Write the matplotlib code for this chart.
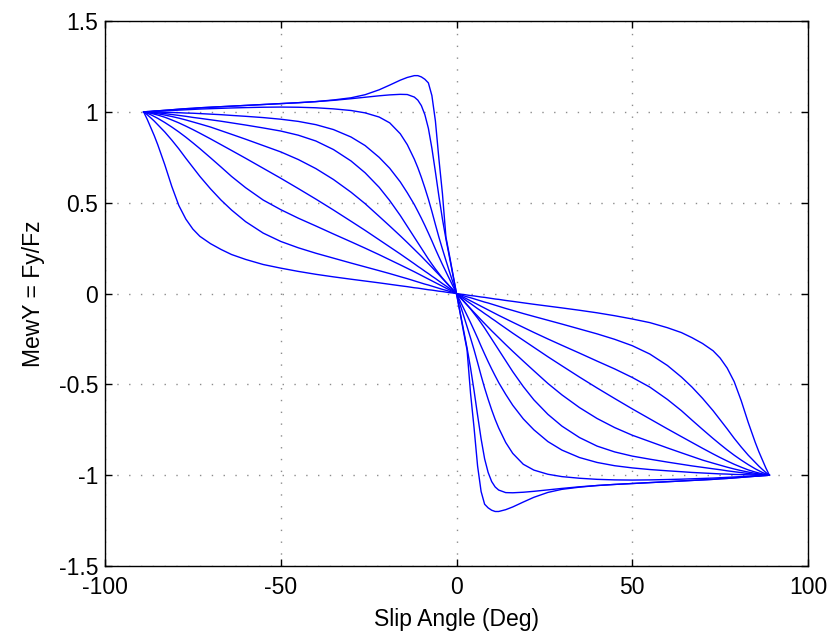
import numpy as np
import matplotlib
matplotlib.use("Agg")
import matplotlib.pyplot as plt

# Slip angle grid for the left half (deg); the right half is the mirror image
slip_left = [-89, -88, -87, -86, -85, -83, -81, -79, -77, -75, -73, -70, -67, -64, -60,
             -55, -50, -45, -40, -35, -30, -26, -22, -19, -16, -14,
             -12, -11, -10, -9, -8, -7, -6, -5, -4, -3, -2, -1, 0]

# MewY values, one list per curve (left half)
mew_0 = [1.0, 0.96, 0.915, 0.87, 0.82, 0.71, 0.59, 0.485, 0.41, 0.355, 0.315, 0.275, 0.243,
         0.215, 0.188, 0.16, 0.14, 0.122, 0.106, 0.092, 0.079, 0.069, 0.059, 0.051, 0.043, 0.038,
         0.032, 0.03, 0.027, 0.024, 0.021, 0.019, 0.016, 0.013, 0.011, 0.008, 0.005, 0.003, 0.0]
mew_1 = [1.0, 0.985, 0.968, 0.95, 0.93, 0.89, 0.845, 0.797, 0.745, 0.695, 0.645, 0.577, 0.515,
         0.46, 0.396, 0.333, 0.287, 0.252, 0.222, 0.195, 0.168, 0.147, 0.126, 0.11, 0.093, 0.082,
         0.07, 0.064, 0.058, 0.052, 0.047, 0.041, 0.035, 0.029, 0.023, 0.018, 0.012, 0.006, 0.0]
mew_2 = [1.0, 0.993, 0.985, 0.975, 0.965, 0.942, 0.917, 0.89, 0.861, 0.83, 0.798, 0.748, 0.697,
         0.645, 0.583, 0.515, 0.462, 0.415, 0.372, 0.328, 0.285, 0.25, 0.214, 0.186, 0.158, 0.139,
         0.12, 0.11, 0.1, 0.09, 0.08, 0.07, 0.06, 0.05, 0.04, 0.03, 0.02, 0.01, 0.0]
mew_3 = [1.0, 0.997, 0.993, 0.988, 0.983, 0.971, 0.956, 0.94, 0.922, 0.903, 0.883, 0.852, 0.82,
         0.788, 0.745, 0.69, 0.635, 0.578, 0.52, 0.46, 0.398, 0.348, 0.296, 0.257, 0.218, 0.191,
         0.164, 0.15, 0.137, 0.123, 0.11, 0.096, 0.083, 0.069, 0.055, 0.042, 0.028, 0.014, 0.0]
mew_4 = [1.0, 0.998, 0.996, 0.993, 0.99, 0.983, 0.975, 0.966, 0.956, 0.945, 0.934, 0.917, 0.897,
         0.877, 0.85, 0.815, 0.78, 0.738, 0.688, 0.628, 0.558, 0.495, 0.425, 0.372, 0.318, 0.281,
         0.243, 0.224, 0.205, 0.185, 0.165, 0.145, 0.124, 0.104, 0.083, 0.063, 0.042, 0.021, 0.0]
mew_5 = [1.0, 0.999, 0.998, 0.997, 0.995, 0.991, 0.986, 0.981, 0.976, 0.97, 0.965, 0.957, 0.949,
         0.94, 0.928, 0.912, 0.895, 0.872, 0.84, 0.793, 0.73, 0.665, 0.585, 0.512, 0.43, 0.37,
         0.31, 0.28, 0.25, 0.22, 0.19, 0.162, 0.135, 0.11, 0.085, 0.062, 0.04, 0.02, 0.0]
mew_6 = [1.0, 1.0, 1.0, 0.999, 0.999, 0.998, 0.997, 0.996, 0.994, 0.993, 0.991, 0.988, 0.985,
         0.981, 0.976, 0.969, 0.96, 0.948, 0.93, 0.903, 0.862, 0.815, 0.75, 0.69, 0.615, 0.555,
         0.49, 0.453, 0.415, 0.375, 0.333, 0.29, 0.245, 0.202, 0.16, 0.12, 0.08, 0.04, 0.0]
mew_7 = [1.0, 1.001, 1.002, 1.003, 1.004, 1.006, 1.008, 1.01, 1.012, 1.014, 1.016, 1.018, 1.02,
         1.022, 1.024, 1.026, 1.027, 1.026, 1.023, 1.017, 1.008, 0.995, 0.972, 0.94, 0.88, 0.82,
         0.74, 0.693, 0.64, 0.582, 0.52, 0.452, 0.38, 0.31, 0.245, 0.182, 0.12, 0.06, 0.0]
mew_8 = [1.0, 1.002, 1.003, 1.005, 1.006, 1.009, 1.012, 1.015, 1.018, 1.02, 1.023, 1.026, 1.029,
         1.032, 1.036, 1.041, 1.046, 1.051, 1.057, 1.064, 1.073, 1.081, 1.089, 1.094, 1.097, 1.096,
         1.082, 1.065, 1.035, 0.985, 0.91, 0.8, 0.67, 0.535, 0.41, 0.3, 0.2, 0.1, 0.0]
mew_9 = [1.0, 1.002, 1.003, 1.005, 1.006, 1.009, 1.012, 1.015, 1.018, 1.02, 1.023, 1.026, 1.029,
         1.032, 1.036, 1.041, 1.046, 1.051, 1.057, 1.066, 1.078, 1.095, 1.122, 1.148, 1.175, 1.19,
         1.2, 1.2, 1.193, 1.18, 1.16, 1.09, 0.95, 0.74, 0.55, 0.31, 0.21, 0.105, 0.0]

curves = [mew_0, mew_1, mew_2, mew_3, mew_4, mew_5, mew_6, mew_7, mew_8, mew_9]

plt.rcParams['font.family'] = ['Liberation Sans', 'DejaVu Sans']

fig = plt.figure(figsize=(8.38, 6.43), dpi=100)
ax = fig.add_axes([0.1253, 0.1198, 0.8389, 0.8473])

xl = np.array(slip_left, dtype=float)
for c in curves:
    yl = np.array(c)
    # the curves are point-symmetric about the origin
    x_full = np.concatenate([xl, -xl[::-1][1:]])
    y_full = np.concatenate([yl, -yl[::-1][1:]])
    ax.plot(x_full, y_full, color='#0000ff', linewidth=1.0)

ax.set_xlim(-100, 100)
ax.set_ylim(-1.5, 1.5)
ax.set_xticks([-100, -50, 0, 50, 100])
ax.set_yticks([-1.5, -1, -0.5, 0, 0.5, 1, 1.5])
ax.set_yticklabels(['-1.5', '-1', '-0.5', '0', '0.5', '1', '1.5'])
ax.set_xticklabels(['-100', '-50', '0', '50', '100'])
ax.tick_params(direction='in', length=5, width=1, top=True, right=True,
               labelsize=16.5)
ax.tick_params(axis='x', pad=7)
ax.tick_params(axis='y', pad=5)
ax.grid(True, color='0.55', linestyle=(0, (1, 7.5)), linewidth=1.0)
for s in ax.spines.values():
    s.set_linewidth(1.0)

ax.set_xlabel('Slip Angle (Deg)', fontsize=16.5, labelpad=7)
ax.set_ylabel('MewY = Fy/Fz', fontsize=16.5, labelpad=10)

fig.savefig('out.png', dpi=100)
